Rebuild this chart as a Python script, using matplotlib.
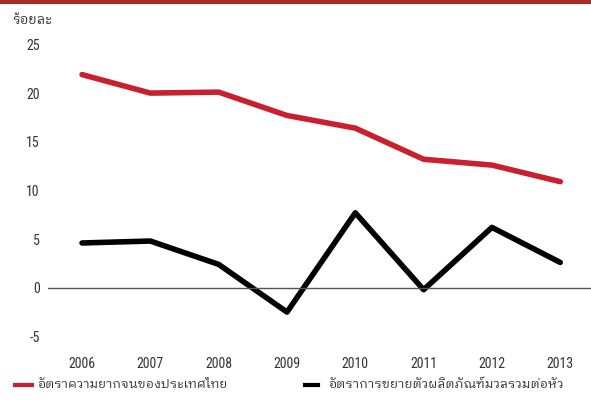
import matplotlib as mpl
import matplotlib.pyplot as plt

years = [2006, 2007, 2008, 2009, 2010, 2011, 2012, 2013]
poverty = [21.9, 20.0, 20.1, 17.7, 16.4, 13.2, 12.6, 10.9]
gdp_growth = [4.6, 4.8, 2.4, -2.5, 7.7, -0.2, 6.2, 2.6]
yticks = [-5, 0, 5, 10, 15, 20, 25]
label_poverty = 'อัตราความยากจนของประเทศไทย'
label_gdp = 'อัตราการขยายตัวผลิตภัณฑ์มวลรวมต่อหัว'
unit = 'ร้อยละ'

mpl.rcParams['axes.unicode_minus'] = False
num_font = ['Liberation Sans Narrow', 'Roboto Condensed', 'IBM Plex Sans Condensed',
            'Liberation Sans']
thai_font = ['IBM Plex Sans Thai Looped', 'IBM Plex Sans Thai', 'DejaVu Sans']
text_color = '#333333'
W, H = 591, 412

fig = plt.figure(figsize=(5.91, 4.12), dpi=100)
ax = fig.add_axes([0.081, 0.148, 0.919, 0.756])

ax.plot(years, poverty, color='#c8202f', lw=4, solid_capstyle='round')
ax.plot(years, gdp_growth, color='black', lw=4, solid_capstyle='round')
ax.axhline(0, color='#555555', lw=1)

ax.set_xlim(2005.5, 2013.45)
ax.set_ylim(-6.5, 25.5)
ax.set_xticks(years)
ax.set_yticks(yticks)
for s in ax.spines.values():
    s.set_visible(False)
ax.tick_params(length=0, labelsize=10, colors=text_color)
ax.tick_params(axis='y', pad=6)
ax.tick_params(axis='x', pad=4)
for t in ax.get_xticklabels() + ax.get_yticklabels():
    t.set_family(num_font)

renderer = fig.canvas.get_renderer()

def fit_text(x0, x1, y, s, size):
    # place text starting at x0 px and shrink/grow so it ends near x1 px
    t = fig.text(x0 / W, 1 - y / H, s, family=thai_font, fontsize=size,
                 color=text_color, va='center', ha='left')
    w = t.get_window_extent(renderer).width
    t.set_fontsize(size * (x1 - x0) / w)
    return t

fit_text(12, 52, 20, unit, 11)

# legend
fig.add_artist(mpl.lines.Line2D([15 / W, 32 / W], [1 - 385 / H] * 2, color='#c8202f', lw=3))
fit_text(37, 227, 384, label_poverty, 10)
fig.add_artist(mpl.lines.Line2D([305 / W, 318 / W], [1 - 385 / H] * 2, color='black', lw=3))
fit_text(328, 563, 384, label_gdp, 10)

# top border
fig.add_artist(mpl.lines.Line2D([0, 1], [1 - 1.5 / H] * 2, color='#a32c2c', lw=3))

fig.savefig('out.png', dpi=100)
